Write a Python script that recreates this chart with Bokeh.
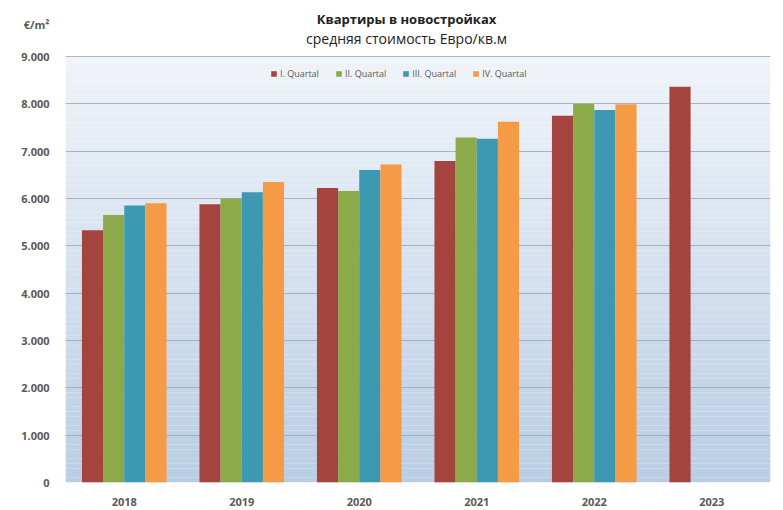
from bokeh.plotting import figure
from bokeh.models import ColumnDataSource, Range1d, Label, Legend, CustomJSTickFormatter, FixedTicker
from bokeh.transform import dodge
from bokeh.embed import file_html
from bokeh.resources import INLINE
import numpy as np

years = ["2018", "2019", "2020", "2021", "2022", "2023"]
q1 = [5330, 5880, 6220, 6790, 7750, 8360]
q2 = [5650, 6000, 6160, 7290, 8000, None]
q3 = [5850, 6130, 6600, 7260, 7870, None]
q4 = [5900, 6350, 6720, 7620, 7990, None]
series_names = ["I. Quartal", "II. Quartal", "III. Quartal", "IV. Quartal"]
colors = ["#A5443F", "#8DAA4A", "#3D98B1", "#F59A45"]
y_ticks = [0, 1000, 2000, 3000, 4000, 5000, 6000, 7000, 8000, 9000]
title_text = "Квартиры в новостройках"
subtitle_text = "средняя стоимость Евро/кв.м"
unit_text = "€/m²"

def clean(v):
    return [np.nan if x is None else x for x in v]

source = ColumnDataSource(dict(year=years, q1=clean(q1), q2=clean(q2), q3=clean(q3), q4=clean(q4)))

FONT = "Open Sans"
Y_MAX = 9000
Y_TOP = 10183      # frame extends up to the canvas top so the header fits inside
UNIT_POS = 9676    # height of the unit caption on the value axis

p = figure(width=783, height=510, x_range=years, y_range=Range1d(0, Y_TOP),
           output_backend="svg", toolbar_location=None,
           min_border_left=65, min_border_right=13, min_border_top=0, min_border_bottom=28)
p.outline_line_color = None
p.background_fill_color = "#ffffff"

# gradient background (synthetic categorical coordinates span 0..len(years))
n = 90
b = np.linspace(0, Y_MAX, n + 1)
top_c = np.array([0xF0, 0xF4, 0xF9])
bot_c = np.array([0xB9, 0xCD, 0xE4])
cols = []
for i in range(n):
    t = (i + 0.5) / n
    c = bot_c + (top_c - bot_c) * t
    cols.append("#%02x%02x%02x" % tuple(int(round(v)) for v in c))
bg = p.quad(left=0, right=len(years), bottom=b[:-1], top=b[1:], fill_color=cols, line_color=None)
bg.level = "image"

offsets = [-0.27, -0.09, 0.09, 0.27]
keys = ["q1", "q2", "q3", "q4"]
items = []
for k, off, c, name in zip(keys, offsets, colors, series_names):
    r = p.vbar(x=dodge("year", off, range=p.x_range), top=k, width=0.18, source=source,
               fill_color=c, line_color=None)
    items.append((name, [r]))

legend = Legend(items=items, orientation="horizontal", location=(205, 402),
                border_line_color=None, background_fill_alpha=0,
                label_text_font=FONT, label_text_font_size="9px", label_text_color="#595959",
                glyph_width=7, glyph_height=7, label_standoff=3, spacing=16,
                padding=6, margin=0, label_height=10)
p.add_layout(legend, "center")

# grid / axes
p.xgrid.grid_line_color = None
p.ygrid.ticker = FixedTicker(ticks=y_ticks)
p.ygrid.grid_line_color = "#8f9aa8"
p.ygrid.grid_line_alpha = 0.7
p.yaxis.ticker = FixedTicker(ticks=y_ticks + [UNIT_POS])
p.yaxis.formatter = CustomJSTickFormatter(
    args=dict(unit=unit_text, ymax=Y_MAX),
    code="if (tick > ymax) { return unit; } return tick == 0 ? '0' : (tick/1000).toFixed(0) + '.000';")
for ax in (p.xaxis[0], p.yaxis[0]):
    ax.axis_line_color = None
    ax.major_tick_line_color = None
    ax.minor_tick_line_color = None
    ax.major_label_text_font = FONT
    ax.major_label_text_font_style = "bold"
    ax.major_label_text_font_size = "11px"
    ax.major_label_text_color = "#595959"
p.xaxis.major_label_standoff = 9
p.yaxis.major_label_standoff = 10

# header, positioned in screen pixels from the frame's bottom-left corner
main = Label(x=341, y=464, x_units="screen", y_units="screen", text=title_text,
             text_align="center", text_baseline="middle",
             text_font=FONT, text_font_size="13px", text_font_style="bold", text_color="#222222")
sub = Label(x=341, y=444, x_units="screen", y_units="screen", text=subtitle_text,
            text_align="center", text_baseline="middle",
            text_font=FONT, text_font_size="14px", text_color="#222222")
p.add_layout(main)
p.add_layout(sub)

open("out.html", "w").write(file_html(p, INLINE))
